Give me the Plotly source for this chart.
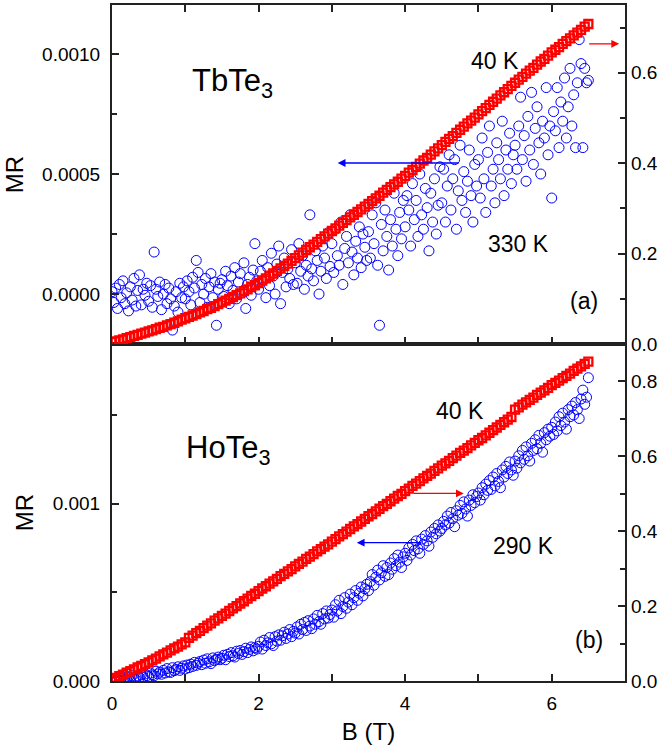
import numpy as np
import plotly.graph_objects as go

# ---------------- data ----------------
# field sweeps (T): uniform measurement grids
B_BLUE_START, B_BLUE_STOP, B_BLUE_N = 0.0, 6.5, 261
B_RED_START, B_RED_STOP, B_RED_N = 0.0, 6.5, 131

# (a) TbTe3, 330 K, MR in units of 1e-6 (left axis)
tb_330K_mr_e6 = [
    10, -35, 25, -60, 40, -15, 55, -40, 5, -70, 30, -25, 65, -50, 15, 80, -45, 20, -5, 45,
    -30, 35, -55, 175, 20, -10, 50, -65, 0, 40, -40, 25, -20, -150, -50, 10, -75, 45, -15, 30,
    -20, 55, 10, -45, 70, 25, 140, 90, -35, 40, 0, 65, -55, 30, 85, -15, 50, -130, 20, 45,
    60, -10, 95, 35, -40, 75, 15, 110, -20, 50, 85, 5, 130, -60, 40, 70, -5, 100, 210, 55,
    20, 95, 140, 60, -15, 110, 35, 170, 75, 0, 125, 200, -40, 90, 150, 30, 105, 65, 185, 40,
    130, 45, 210, 95, 160, 20, 120, 75, 330, 105, 55, 180, 140, 0, 95, 200, 150, 65, 255, 115,
    210, 90, 270, 160, 120, 300, 40, 190, 240, 130, 330, 175, 80, 220, 150, 280, 110, 250, 195, 140,
    260, 150, 330, 210, 380, 120, -130, 290, 180, 350, 240, 100, 310, 200, 420, 270, 160, 340, 230, 390,
    280, 410, 350, 200, 460, 310, 390, 240, 500, 330, 270, 440, 360, 180, 420, 300, 480, 250, 370, 530,
    380, 520, 300, 450, 580, 350, 480, 560, 270, 430, 620, 390, 510, 340, 470, 600, 410, 300, 540, 450,
    560, 400, 650, 480, 340, 590, 700, 450, 520, 380, 630, 560, 480, 720, 410, 600, 520, 670, 460, 580,
    620, 520, 700, 820, 560, 660, 470, 740, 600, 840, 540, 690, 780, 630, 500, 720, 650, 860, 580, 700,
    400, 760, 680, 860, 610, 800, 720, 900, 650, 780, 940, 700, 830, 610, 880, 1060, 960, 610, 940, 880,
    890,
]

# (a) TbTe3, 40 K, right axis
tb_40K_r = [
    0.004, 0.006, 0.008, 0.010, 0.013, 0.015, 0.018, 0.020, 0.023, 0.025,
    0.028, 0.030, 0.033, 0.036, 0.038, 0.041, 0.044, 0.047, 0.050, 0.054,
    0.057, 0.060, 0.063, 0.066, 0.070, 0.073, 0.077, 0.080, 0.084, 0.088,
    0.092, 0.096, 0.100, 0.104, 0.108, 0.112, 0.117, 0.121, 0.126, 0.130,
    0.135, 0.140, 0.145, 0.151, 0.156, 0.162, 0.167, 0.173, 0.178, 0.184,
    0.190, 0.196, 0.202, 0.208, 0.214, 0.220, 0.226, 0.232, 0.238, 0.244,
    0.250, 0.256, 0.262, 0.268, 0.274, 0.280, 0.286, 0.292, 0.298, 0.304,
    0.310, 0.316, 0.322, 0.328, 0.335, 0.341, 0.347, 0.353, 0.359, 0.366,
    0.372, 0.379, 0.385, 0.392, 0.399, 0.406, 0.412, 0.419, 0.426, 0.433,
    0.440, 0.447, 0.454, 0.460, 0.467, 0.474, 0.481, 0.488, 0.494, 0.501,
    0.508, 0.515, 0.522, 0.529, 0.536, 0.543, 0.550, 0.557, 0.564, 0.571,
    0.578, 0.585, 0.591, 0.598, 0.605, 0.611, 0.618, 0.625, 0.631, 0.638,
    0.645, 0.651, 0.657, 0.664, 0.670, 0.676, 0.683, 0.689, 0.695, 0.702,
    0.708,
]

# (b) HoTe3, 290 K, MR in units of 1e-6 (left axis)
ho_290K_mr_e6 = [
    -10, 5, -5, 10, 0, 15, 5, 20, 10, 25, 12, 30, 18, 8, 28, 20, 35, 22, 40, 30,
    25, 45, 35, 30, 55, 40, 50, 38, 60, 45, 70, 52, 48, 75, 58, 65, 80, 60, 72, 85,
    68, 90, 75, 95, 82, 105, 88, 100, 110, 92, 118, 100, 125, 108, 98, 130, 115, 122, 135, 120,
    128, 145, 120, 150, 138, 160, 142, 135, 168, 155, 172, 150, 165, 185, 160, 178, 192, 170, 188, 180,
    195, 220, 180, 230, 200, 215, 245, 210, 200, 250, 225, 260, 230, 255, 275, 240, 265, 290, 250, 280,
    270, 305, 265, 320, 290, 330, 285, 340, 310, 295, 350, 320, 370, 335, 320, 380, 350, 395, 355, 375,
    400, 360, 430, 395, 455, 380, 420, 470, 410, 445, 490, 430, 470, 510, 455, 495, 530, 480, 520, 545,
    510, 560, 600, 540, 585, 625, 570, 610, 650, 590, 640, 600, 665, 630, 690, 650, 710, 670, 640, 700,
    720, 680, 750, 710, 770, 735, 790, 745, 720, 800, 770, 820, 790, 760, 840, 810, 860, 830, 880, 845,
    860, 900, 880, 930, 890, 950, 915, 870, 960, 935, 990, 945, 1010, 970, 930, 1020, 990, 1050, 1005, 1040,
    1060, 1020, 1090, 1050, 1110, 1075, 1130, 1080, 1150, 1100, 1170, 1125, 1090, 1190, 1150, 1210, 1170, 1235, 1190, 1160,
    1240, 1200, 1270, 1230, 1300, 1250, 1320, 1270, 1240, 1340, 1300, 1360, 1310, 1385, 1340, 1290, 1400, 1360, 1420, 1380,
    1430, 1390, 1460, 1410, 1490, 1440, 1510, 1460, 1420, 1530, 1490, 1550, 1500, 1570, 1530, 1480, 1590, 1640, 1560, 1600,
    1710,
]

# (b) HoTe3, 40 K, right axis
ho_40K_r = [
    0.004, 0.008, 0.013, 0.017, 0.022, 0.026, 0.031, 0.036, 0.040, 0.045,
    0.050, 0.055, 0.060, 0.066, 0.071, 0.076, 0.082, 0.087, 0.092, 0.098,
    0.103, 0.115, 0.121, 0.128, 0.134, 0.141, 0.148, 0.154, 0.161, 0.167,
    0.174, 0.180, 0.187, 0.194, 0.200, 0.207, 0.213, 0.220, 0.227, 0.233,
    0.240, 0.247, 0.253, 0.260, 0.266, 0.273, 0.280, 0.286, 0.293, 0.299,
    0.306, 0.313, 0.319, 0.326, 0.332, 0.339, 0.346, 0.352, 0.359, 0.365,
    0.372, 0.379, 0.386, 0.392, 0.399, 0.406, 0.413, 0.419, 0.426, 0.433,
    0.440, 0.446, 0.453, 0.460, 0.467, 0.473, 0.480, 0.487, 0.494, 0.500,
    0.507, 0.514, 0.521, 0.527, 0.534, 0.541, 0.548, 0.554, 0.561, 0.568,
    0.575, 0.581, 0.588, 0.595, 0.602, 0.609, 0.615, 0.622, 0.629, 0.636,
    0.643, 0.649, 0.656, 0.663, 0.670, 0.677, 0.684, 0.691, 0.698, 0.705,
    0.725, 0.731, 0.738, 0.744, 0.751, 0.757, 0.764, 0.770, 0.776, 0.783,
    0.790, 0.796, 0.802, 0.809, 0.815, 0.821, 0.828, 0.834, 0.840, 0.847,
    0.853,
]

B_blue = np.linspace(B_BLUE_START, B_BLUE_STOP, B_BLUE_N)
B_red = np.linspace(B_RED_START, B_RED_STOP, B_RED_N)
tb_330K_mr = np.array(tb_330K_mr_e6) * 1e-6
ho_290K_mr = np.array(ho_290K_mr_e6) * 1e-6

# ---------------- styling ----------------
BLUE = "#0000FF"
RED = "#FF0000"
FONT = "Arial, Liberation Sans, sans-serif"
AX = "#222222"

fig = go.Figure()

circ = dict(symbol="circle-open", size=10, color=BLUE, line=dict(width=1, color=BLUE))
sq = dict(symbol="square-open", size=8, color=RED, line=dict(width=2.3, color=RED))

# top panel
fig.add_trace(go.Scatter(x=B_blue, y=tb_330K_mr, mode="markers", marker=circ,
                         xaxis="x2", yaxis="y3", showlegend=False))
fig.add_trace(go.Scatter(x=B_red, y=tb_40K_r, mode="markers", marker=sq,
                         xaxis="x2", yaxis="y4", showlegend=False))
# bottom panel
fig.add_trace(go.Scatter(x=B_blue, y=ho_290K_mr, mode="markers", marker=circ,
                         xaxis="x", yaxis="y", showlegend=False))
fig.add_trace(go.Scatter(x=B_red, y=ho_40K_r, mode="markers", marker=sq,
                         xaxis="x", yaxis="y2", showlegend=False))

split = (681 - 344) / 676.0
tickfont = dict(family=FONT, size=19, color="black")
minor_in = dict(ticks="inside", ticklen=5, tickwidth=1.5, tickcolor=AX)

common_line = dict(showline=True, linecolor=AX, linewidth=2, ticks="inside",
                   ticklen=7, tickwidth=1.5, tickcolor=AX, showgrid=False,
                   zeroline=False, automargin=False, tickfont=tickfont)
right_axis = dict(side="right", showline=False, ticks="inside", ticklen=7, tickwidth=1.5,
                  tickcolor=AX, showgrid=False, zeroline=False, automargin=False,
                  ticklabelstandoff=5, tickfont=tickfont, tickformat=".1f", dtick=0.2, tick0=0,
                  minor=dict(dtick=0.1, tick0=0, **minor_in))

fig.update_layout(
    width=664, height=746,
    margin=dict(l=112, r=39, t=5, b=65),
    paper_bgcolor="white", plot_bgcolor="white",
    font=dict(family=FONT, color="black"),
    xaxis=dict(domain=[0, 1], anchor="y", range=[0, 7], dtick=2, tick0=0,
               mirror=True, ticklabelstandoff=4,
               minor=dict(dtick=1, ticks="inside", ticklen=7, tickwidth=1.5, tickcolor=AX),
               title=dict(text="B (T)", font=dict(family=FONT, size=24), standoff=10),
               **common_line),
    yaxis=dict(domain=[0, split], anchor="x", range=[0, 0.0019], tickvals=[0, 0.001],
               tickformat=".3f", mirror=True, ticklabelstandoff=6,
               minor=dict(tickvals=[0.0005, 0.0015], **minor_in),
               title=dict(text="MR", font=dict(family=FONT, size=24), standoff=12),
               **common_line),
    yaxis2=dict(overlaying="y", anchor="x", range=[0, 0.9], **right_axis),
    xaxis2=dict(domain=[0, 1], anchor="y3", range=[0, 7], dtick=1, tick0=0,
                showticklabels=False, mirror="ticks", **common_line),
    yaxis3=dict(domain=[split, 1], anchor="x2", range=[-0.000208, 0.001204],
                tickvals=[0, 0.0005, 0.001], tickformat=".4f", mirror=True, ticklabelstandoff=6,
                minor=dict(tickvals=[-0.00025, 0.00025, 0.00075], **minor_in),
                title=dict(text="MR", font=dict(family=FONT, size=24), standoff=12),
                **common_line),
    yaxis4=dict(overlaying="y3", anchor="x2", range=[0, 0.75], **right_axis),
)

txt = dict(family=FONT, size=23, color="black")
big = dict(family=FONT, size=31, color="black")
ann = []
# top panel labels
ann.append(dict(x=1.65, y=0.00088, xref="x2", yref="y3", text="TbTe<sub>3</sub>", font=big, showarrow=False))
ann.append(dict(x=5.23, y=0.00097, xref="x2", yref="y3", text="40 K", font=txt, showarrow=False))
ann.append(dict(x=5.54, y=0.000208, xref="x2", yref="y3", text="330 K", font=txt, showarrow=False))
ann.append(dict(x=6.44, y=-0.000030, xref="x2", yref="y3", text="(a)", font=txt, showarrow=False))
# bottom panel labels
ann.append(dict(x=1.58, y=0.00130, xref="x", yref="y", text="HoTe<sub>3</sub>", font=big, showarrow=False))
ann.append(dict(x=4.75, y=0.00152, xref="x", yref="y", text="40 K", font=txt, showarrow=False))
ann.append(dict(x=5.61, y=0.00076, xref="x", yref="y", text="290 K", font=txt, showarrow=False))
ann.append(dict(x=6.51, y=0.000232, xref="x", yref="y", text="(b)", font=txt, showarrow=False))
# arrows
arrow = dict(showarrow=True, arrowhead=2, arrowsize=1.2, arrowwidth=1.3, text="")
ann.append(dict(x=3.08, y=0.000546, ax=4.75, ay=0.000546, xref="x2", yref="y3",
                axref="x2", ayref="y3", arrowcolor=BLUE, **arrow))
ann.append(dict(x=6.92, y=0.664, ax=6.49, ay=0.664, xref="x2", yref="y4",
                axref="x2", ayref="y4", arrowcolor=RED, **arrow))
ann.append(dict(x=4.80, y=0.501, ax=4.10, ay=0.501, xref="x", yref="y2",
                axref="x", ayref="y2", arrowcolor=RED, **arrow))
ann.append(dict(x=3.34, y=0.00078, ax=4.24, ay=0.00078, xref="x", yref="y",
                axref="x", ayref="y", arrowcolor=BLUE, **arrow))
fig.update_layout(annotations=ann)

fig.write_html("out.html", config={"displayModeBar": False},
               post_script="document.body.style.margin='0px';")
